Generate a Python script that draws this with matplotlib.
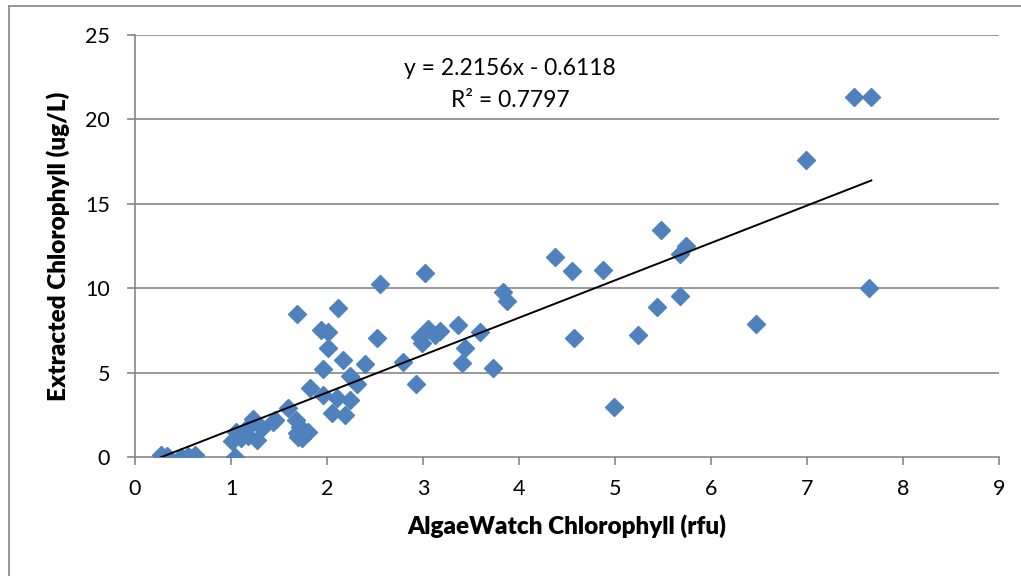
import matplotlib
matplotlib.use("Agg")
import matplotlib.pyplot as plt
from matplotlib.lines import Line2D
import numpy as np

plt.rcParams['font.family'] = ['Lato', 'DejaVu Sans']

# Data
algae_rfu = [0.27, 0.33, 0.48, 0.55, 0.62,
             1.01, 1.04, 1.05, 1.10, 1.15, 1.18, 1.23, 1.27, 1.32,
             1.44, 1.46, 1.59, 1.68, 1.69, 1.70, 1.72, 1.74, 1.80,
             1.69, 1.82, 1.94, 1.96, 1.96, 2.01, 2.01, 2.05, 2.10,
             2.11, 2.17, 2.19, 2.24, 2.24, 2.31, 2.40,
             2.52, 2.55, 2.79, 2.93, 3.02, 2.97, 2.99, 3.05, 3.12,
             3.18, 3.36, 3.41, 3.44, 3.59, 3.73, 3.83, 3.88,
             4.38, 4.55, 4.57, 4.88, 4.99, 5.24, 5.44, 5.48, 5.68,
             5.74, 5.68, 6.47, 6.99, 7.49, 7.67, 7.65]
extracted_ugL = [0.10, 0.05, 0.00, 0.05, 0.10,
                 0.95, 0.00, 1.50, 1.10, 1.60, 1.25, 2.25, 1.00, 1.70,
                 2.10, 2.20, 2.90, 2.20, 1.40, 1.20, 1.80, 1.10, 1.50,
                 8.45, 4.10, 7.50, 5.20, 3.70, 7.40, 6.45, 2.60, 3.50,
                 8.80, 5.75, 2.50, 4.80, 3.40, 4.30, 5.50,
                 7.05, 10.25, 5.60, 4.30, 10.90, 7.10, 6.75, 7.60, 7.20,
                 7.45, 7.80, 5.55, 6.45, 7.40, 5.25, 9.75, 9.25,
                 11.85, 11.00, 7.05, 11.10, 2.95, 7.20, 8.90, 13.45, 12.00,
                 12.50, 9.55, 7.90, 17.60, 21.30, 21.30, 10.00]

trend_slope = 2.2156
trend_intercept = -0.6118
r_squared = 0.7797

x_ticks = [0, 1, 2, 3, 4, 5, 6, 7, 8, 9]
y_ticks = [0, 5, 10, 15, 20, 25]

fig = plt.figure(figsize=(10.21, 5.76), dpi=100)
ax = fig.add_axes([135/1021, 1 - 457/576, (999-135)/1021, (457-35)/576])

grid_color = '#868686'
for yt in y_ticks[1:]:
    ax.axhline(yt, color=grid_color, lw=1.2, zorder=1)

ax.plot(algae_rfu, extracted_ugL, linestyle='none', marker='D', ms=9.2,
        color='#4F81BD', mec='#4F81BD', zorder=3)

xs = np.array([min(algae_rfu), max(algae_rfu)])
ax.plot(xs, trend_slope * xs + trend_intercept, color='black', lw=1.4, zorder=4)

ax.set_xlim(0, 9)
ax.set_ylim(0, 25)
ax.set_xticks(x_ticks)
ax.set_yticks(y_ticks)
ax.tick_params(axis='both', labelsize=15.5, colors=grid_color, labelcolor='black',
               length=6, width=1.2, direction='out')
ax.tick_params(axis='x', pad=10)
ax.tick_params(axis='y', pad=12)

for s in ['top', 'right']:
    ax.spines[s].set_visible(False)
for s in ['left', 'bottom']:
    ax.spines[s].set_color(grid_color)
    ax.spines[s].set_linewidth(1.2)

ax.set_xlabel('AlgaeWatch Chlorophyll (rfu)', fontsize=17.5, fontweight='heavy', labelpad=11)
ax.set_ylabel('Extracted Chlorophyll (ug/L)', fontsize=17.5, fontweight='heavy', labelpad=11)

sign = '-' if trend_intercept < 0 else '+'
ax.text(3.91, 23.0, f'y = {trend_slope:.4f}x {sign} {abs(trend_intercept):.4f}',
        ha='center', va='center', fontsize=16.5)
ax.text(3.91, 21.1, f'R² = {r_squared:.4f}', ha='center', va='center', fontsize=16.5)

# outer chart frame (left and top edges visible)
fig.add_artist(Line2D([8.5/1021, 8.5/1021], [0, 1 - 5.5/576], transform=fig.transFigure,
                      color=grid_color, lw=1.2))
fig.add_artist(Line2D([8.5/1021, 1], [1 - 5.5/576, 1 - 5.5/576], transform=fig.transFigure,
                      color=grid_color, lw=1.2))

fig.savefig('out.png', dpi=100)
